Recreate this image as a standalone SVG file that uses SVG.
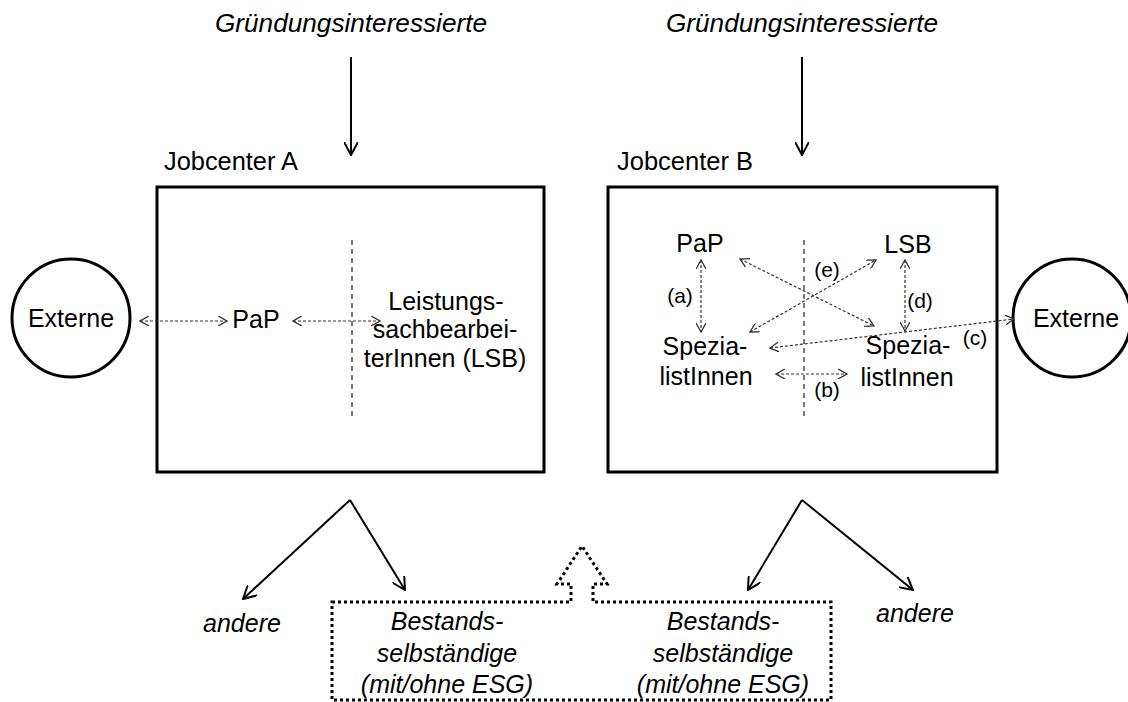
<svg xmlns="http://www.w3.org/2000/svg" width="1128" height="702" viewBox="0 0 1128 702">
<style>
text{font-family:"Liberation Sans",Arial,sans-serif;fill:#000}
.t{font-size:25px;text-anchor:middle}
.it{font-size:25px;font-style:italic;text-anchor:middle}
.lb{font-size:21px;text-anchor:middle}
.box{fill:none;stroke:#000;stroke-width:3}
.sep{stroke:#222;stroke-width:1.2;stroke-dasharray:5 4;fill:none}
.dc{stroke:#333;stroke-width:1.2;stroke-dasharray:3 2;fill:none;marker-start:url(#ad);marker-end:url(#ad)}
.sc{stroke:#000;stroke-width:2;fill:none;marker-end:url(#as)}
.dot{fill:none;stroke:#000;stroke-width:3;stroke-dasharray:3 3}
</style>
<defs>
<marker id="ad" viewBox="0 0 10 10" refX="9" refY="5" markerWidth="10" markerHeight="10" markerUnits="userSpaceOnUse" orient="auto-start-reverse">
<path d="M0,0 L9,5 L0,10" fill="none" stroke="#333" stroke-width="1.3"/>
</marker>
<marker id="as" viewBox="0 0 14 14" refX="13" refY="7" markerWidth="14" markerHeight="14" markerUnits="userSpaceOnUse" orient="auto">
<path d="M0,0 L13,7 L0,14" fill="none" stroke="#000" stroke-width="2"/>
</marker>
</defs>

<g id="top-labels">
<text class="it" x="351" y="32" textLength="272" lengthAdjust="spacingAndGlyphs">Gründungsinteressierte</text>
<text class="it" x="802" y="32" textLength="272" lengthAdjust="spacingAndGlyphs">Gründungsinteressierte</text>
</g>

<g id="jobcenter-a">
<text x="164" y="170" style="font-size:25px" textLength="134" lengthAdjust="spacingAndGlyphs">Jobcenter A</text>
<rect class="box" x="157" y="187" width="387" height="285"/>
<line class="sep" x1="352" y1="240" x2="352" y2="417"/>
</g>
<g id="pap-a"><text class="t" x="256" y="328">PaP</text></g>
<g id="lsb-a">
<text class="t" x="446" y="310">Leistungs-</text>
<text class="t" x="445" y="338">sachbearbei-</text>
<text class="t" x="445" y="367">terInnen (LSB)</text>
</g>
<g id="externe-a">
<circle cx="71" cy="318" r="59" class="box"/>
<text class="t" x="71" y="327">Externe</text>
</g>

<g id="jobcenter-b">
<text x="617" y="170" style="font-size:25px" textLength="136" lengthAdjust="spacingAndGlyphs">Jobcenter B</text>
<rect class="box" x="608" y="187" width="389" height="285"/>
<line class="sep" x1="804" y1="240" x2="804" y2="417"/>
</g>
<g id="pap-b"><text class="t" x="700" y="252">PaP</text></g>
<g id="lsb-b"><text class="t" x="908" y="253">LSB</text></g>
<g id="spez-b1">
<text class="t" x="705" y="355">Spezia-</text>
<text class="t" x="706" y="385">listInnen</text>
</g>
<g id="spez-b2">
<text class="t" x="908" y="354">Spezia-</text>
<text class="t" x="907" y="386">listInnen</text>
</g>
<g id="externe-b">
<circle cx="1072" cy="318" r="59" class="box"/>
<text class="t" x="1076" y="327">Externe</text>
</g>

<g id="outcomes">
<text class="it" x="242" y="632">andere</text>
<text class="it" x="915" y="622">andere</text>
</g>
<g id="bestand">
<path class="dot" d="M332,602 L571,602 L571,584 L557,584 L582,546 L607,584 L593,584 L593,602 L831,602 L831,700 L332,700 Z"/>
<text class="it" x="447" y="630">Bestands-</text>
<text class="it" x="447" y="662">selbständige</text>
<text class="it" x="447" y="693">(mit/ohne ESG)</text>
<text class="it" x="723" y="630">Bestands-</text>
<text class="it" x="723" y="662">selbständige</text>
<text class="it" x="723" y="693">(mit/ohne ESG)</text>
</g>

<g id="connectors">
<line class="sc" x1="351" y1="57" x2="351" y2="155"/>
<line class="sc" x1="802" y1="57" x2="802" y2="155"/>
<path class="sc" d="M350,500 L243,599"/>
<path class="sc" d="M350,500 L405,590"/>
<path class="sc" d="M802,500 L748,590"/>
<path class="sc" d="M802,500 L913,590"/>
<line class="dc" x1="140" y1="321" x2="227" y2="321"/>
<line class="dc" x1="293" y1="321" x2="380" y2="321"/>
<line class="dc" x1="701" y1="260" x2="701" y2="332"/>
<line class="dc" x1="905" y1="260" x2="905" y2="331"/>
<line class="dc" x1="776" y1="374" x2="847" y2="374"/>
<line class="dc" x1="740" y1="259" x2="874" y2="326"/>
<line class="dc" x1="750" y1="332" x2="876" y2="260"/>
<line class="dc" x1="770" y1="348" x2="1014" y2="319"/>
<text class="lb" x="680" y="303">(a)</text>
<text class="lb" x="827" y="397">(b)</text>
<text class="lb" x="975" y="345">(c)</text>
<text class="lb" x="920" y="308">(d)</text>
<text class="lb" x="827" y="277">(e)</text>
</g>
</svg>
